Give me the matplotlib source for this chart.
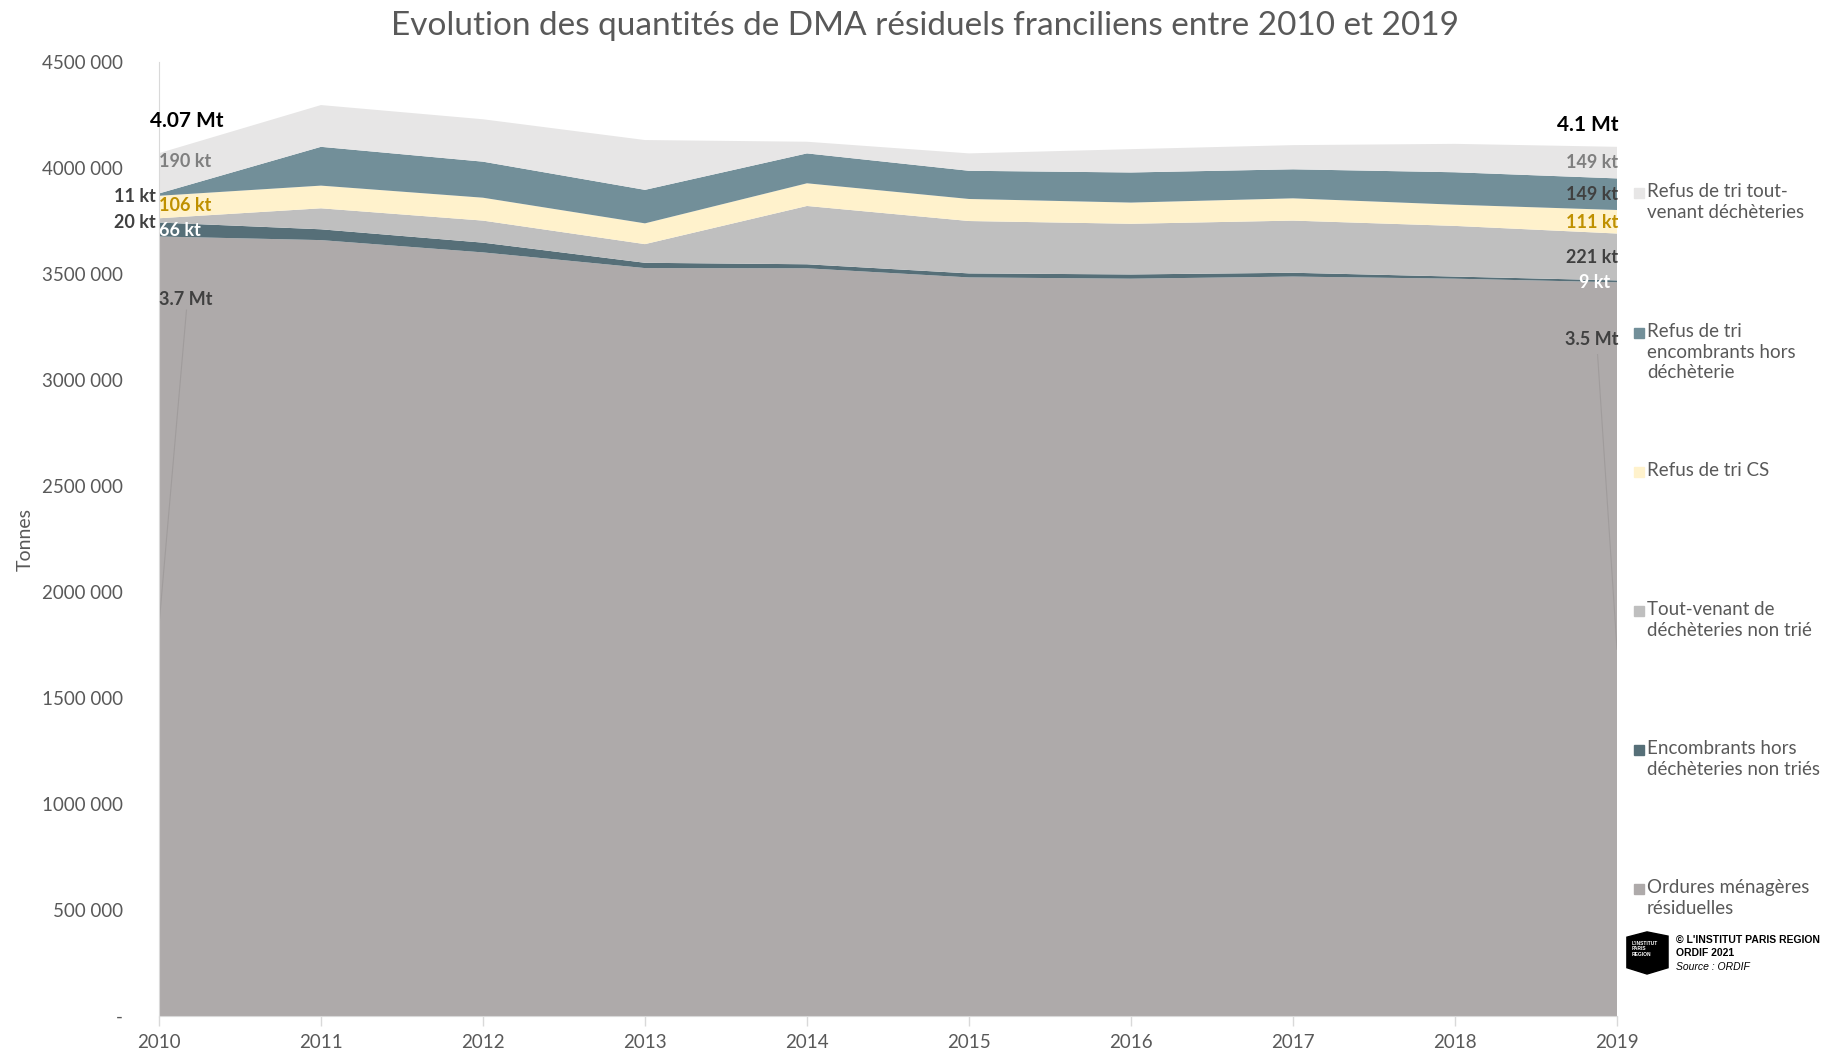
import matplotlib.pyplot as plt
from matplotlib.patches import Rectangle, Polygon
from matplotlib.ticker import FixedLocator, FixedFormatter

plt.rcParams['font.family'] = ['Lato', 'DejaVu Sans']

# Données (tonnes)
years = [2010, 2011, 2012, 2013, 2014, 2015, 2016, 2017, 2018, 2019]
omr = [3677000, 3660000, 3602000, 3528000, 3527000, 3484000, 3478000, 3488000, 3478000, 3461000]
enc_non_tries = [66000, 51000, 46000, 25000, 19000, 19000, 20000, 18000, 10000, 9000]
tv_non_trie = [20000, 99000, 104000, 88000, 275000, 247000, 239000, 246000, 239000, 221000]
refus_cs = [106000, 107000, 108000, 98000, 107000, 104000, 100000, 105000, 100000, 111000]
refus_enc = [11000, 183000, 170000, 158000, 141000, 133000, 142000, 137000, 153000, 149000]
refus_tv = [190000, 197000, 200000, 235000, 55000, 82000, 110000, 114000, 134000, 149000]

series_names = ["Ordures ménagères\nrésiduelles",
                "Encombrants hors\ndéchèteries non triés",
                "Tout-venant de\ndéchèteries non trié",
                "Refus de tri CS",
                "Refus de tri\nencombrants hors\ndéchèterie",
                "Refus de tri tout-\nvenant déchèteries"]
colors = ["#AEAAAA", "#566F78", "#BFBFBF", "#FFF2CC", "#728F99", "#E7E6E6"]

yticks = [0, 500000, 1000000, 1500000, 2000000, 2500000, 3000000, 3500000, 4000000, 4500000]
ytick_labels = ["-", "500 000", "1000 000", "1500 000", "2000 000", "2500 000",
                "3000 000", "3500 000", "4000 000", "4500 000"]

# étiquettes (texte, y en tonnes, couleur, alignement)
left_labels = [("4.07 Mt", 4222000, "black", "center", 15),
               ("190 kt", 4033000, "#7F7F7F", "left", 13),
               ("11 kt", 3868000, "#404040", "right", 13),
               ("106 kt", 3821000, "#BF9000", "left", 13),
               ("20 kt", 3745000, "#404040", "right", 13),
               ("66 kt", 3703000, "white", "left", 13),
               ("3.7 Mt", 3382000, "#404040", "left", 13)]
right_labels = [("4.1 Mt", 4203000, "black", 15),
                ("149 kt", 4024000, "#7F7F7F", 13),
                ("149 kt", 3873000, "#404040", 13),
                ("111 kt", 3741000, "#BF9000", 13),
                ("221 kt", 3580000, "#404040", 13),
                ("9 kt", 3462000, "white", 13),
                ("3.5 Mt", 3193000, "#404040", 13)]

fig = plt.figure(figsize=(18.29, 10.53), dpi=100)
ax = fig.add_axes([0.0869, 0.0351, 0.8841 - 0.0869, 0.9411 - 0.0351])

stacks = [omr, enc_non_tries, tv_non_trie, refus_cs, refus_enc, refus_tv]
ax.stackplot(years, *stacks, colors=colors, linewidth=0)

ax.set_xlim(2010, 2019)
ax.set_ylim(0, 4500000)
ax.set_xticks(years)
ax.set_xticklabels([str(y) for y in years])
ax.yaxis.set_major_locator(FixedLocator(yticks))
ax.yaxis.set_major_formatter(FixedFormatter(ytick_labels))
ax.tick_params(axis="x", colors="#D9D9D9", labelcolor="#595959", labelsize=13.5,
               length=7, width=1, pad=6)
ax.tick_params(axis="y", length=0, labelcolor="#595959", labelsize=13.5, pad=26)

for s in ["top", "right"]:
    ax.spines[s].set_visible(False)
ax.spines["bottom"].set_color("#D9D9D9")
ax.spines["left"].set_color("#D9D9D9")

ax.set_ylabel("Tonnes", fontsize=14, color="#595959", labelpad=6)
fig.text(0.506, 0.975, "Evolution des quantités de DMA résiduels franciliens entre 2010 et 2019",
         ha="center", va="center", fontsize=24, color="#595959")

# traits de rappel
ax.plot([2010.17, 2010.0], [3330000, 1840000], color="#A09C9C", lw=0.8)
ax.plot([2018.88, 2019.0], [3120000, 1730000], color="#A09C9C", lw=0.8)

# étiquettes 2010
for txt, yv, col, ha, fs in left_labels:
    dx = {"left": 0, "right": -2, "center": 20}[ha]
    ax.annotate(txt, (2010, yv), xytext=(dx, 0), textcoords="offset points",
                ha=ha, va="center", fontsize=fs, fontweight="bold", color=col,
                annotation_clip=False)

# étiquettes 2019
for txt, yv, col, fs in right_labels:
    dx = -5 if txt == "9 kt" else 1
    ax.annotate(txt, (2019, yv), xytext=(dx, 0), textcoords="offset points",
                ha="right", va="center", fontsize=fs, fontweight="bold", color=col,
                annotation_clip=False)

# légende
leg_y = [0.817, 0.684, 0.552, 0.420, 0.288, 0.156]
legend_order = list(range(len(series_names)))[::-1]
for k, idx in enumerate(legend_order):
    yk = leg_y[k]
    fig.patches.append(Rectangle((0.8935, yk - 0.005), 0.0055, 0.0095, color=colors[idx],
                                 transform=fig.transFigure, figure=fig))
    fig.text(0.9005, yk + 0.009, series_names[idx], ha="left", va="top", fontsize=13.5,
             color="#595959", linespacing=1.25)

# logo + source
fig.patches.append(Polygon([(0.8895, 0.110), (0.9005, 0.115), (0.912, 0.111), (0.912, 0.081),
                            (0.9005, 0.075), (0.8895, 0.081)], closed=True, color="black",
                           transform=fig.transFigure, figure=fig))
fig.text(0.892, 0.099, "L'INSTITUT\nPARIS\nREGION", fontsize=3.5, color="white",
         fontweight="bold", family="Liberation Sans", va="center", linespacing=1.1)
fig.text(0.9165, 0.107, "© L'INSTITUT PARIS REGION", fontsize=7.5, fontweight="bold",
         family="Liberation Sans", color="black", va="center")
fig.text(0.9165, 0.095, "ORDIF 2021", fontsize=7.5, fontweight="bold",
         family="Liberation Sans", color="black", va="center")
fig.text(0.9165, 0.082, "Source : ORDIF", fontsize=7.5, style="italic",
         family="Liberation Sans", color="black", va="center")

fig.savefig("out.png", dpi=100, facecolor="white")
